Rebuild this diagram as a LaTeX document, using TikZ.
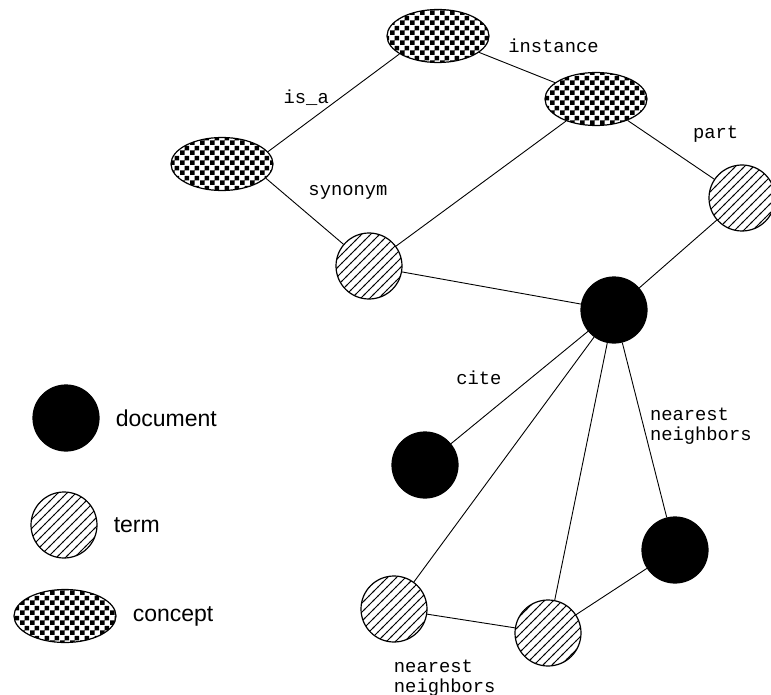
\documentclass[tikz,border=0pt]{standalone}
\usepackage{fontspec}
\setmainfont{Liberation Sans}
\setmonofont{Liberation Mono}
\usetikzlibrary{shapes.geometric,patterns,positioning}

% fill patterns for the two kinds of hatched nodes
\pgfdeclarepatternformonly{checks}{\pgfpointorigin}{\pgfpoint{10pt}{10pt}}{\pgfpoint{10pt}{10pt}}{%
  \pgfpathrectangle{\pgfpointorigin}{\pgfpoint{5pt}{5pt}}%
  \pgfpathrectangle{\pgfpoint{5pt}{5pt}}{\pgfpoint{5pt}{5pt}}%
  \pgfusepath{fill}}
\pgfdeclarepatternformonly{hatch}{\pgfpoint{-1pt}{-1pt}}{\pgfpoint{10pt}{10pt}}{\pgfpoint{9pt}{9pt}}{%
  \pgfsetlinewidth{0.8pt}%
  \pgfpathmoveto{\pgfpoint{-0.5pt}{-0.5pt}}\pgfpathlineto{\pgfpoint{9.5pt}{9.5pt}}\pgfusepath{stroke}%
  \pgfpathcircle{\pgfpoint{4.5pt}{4.5pt}}{0.9pt}\pgfusepath{fill}}

\begin{document}
\begin{tikzpicture}[x=1pt,y=1pt,
   doc/.style={circle,draw,fill=black,line width=1.2pt,minimum size=66pt,inner sep=0pt},
   term/.style={circle,draw,pattern=hatch,line width=1.2pt,minimum size=66pt,inner sep=0pt},
   concept/.style={ellipse,draw,pattern=checks,line width=1.2pt,minimum width=102pt,minimum height=53pt,inner sep=0pt},
   rel/.style={font=\ttfamily\fontsize{18.8}{20}\selectfont,inner sep=3pt,align=left},
   key/.style={font=\fontsize{23}{26}\selectfont,inner sep=3pt},
   every edge/.style={draw,line width=.9pt}]
   \useasboundingbox (0,0) rectangle (771,-695);
   \node[concept] (C1) at (438,-36) {};
   \node[concept] (C2) at (596,-99) {};
   \node[concept] (C3) at (222,-164) {};
   \node[term] (T1) at (369,-266) {};
   \node[term] (T2) at (742,-198) {};
   \node[term] (T3) at (394,-609) {};
   \node[term] (T4) at (548,-633) {};
   \node[doc] (D1) at (614,-310) {};
   \node[doc] (D2) at (425,-465) {};
   \node[doc] (D3) at (675,-550) {};
   % legend
   \node[doc] (docKey) at (66,-418) {};
   \node[term] (termKey) at (64,-525) {};
   \node[concept] (conceptKey) at (65,-616) {};
   \node[key, right=13pt of docKey] (docText) {document};
   \node[key, right=13pt of termKey] (termText) {term};
   \node[key, right=13pt of conceptKey] (conceptText) {concept};
    \path
    (C3.15) edge node[rel, pos=.55, left=8pt] {is\_a} (C1.205)
    (C1) edge node[rel, pos=.38, above right=8pt and -3pt] {instance} (C2)
    (C2) edge node[rel, pos=.6, above right=10pt and 10pt] {part} (T2)
         edge (T1)
    (C3.-18) edge node[rel, pos=.35, above right=-2pt and 12pt] {synonym} (T1)
    (T1) edge (D1)
    (T2) edge (D1)
    (D1) edge node[rel, pos=.41, left=27pt] {cite} (D2)
         edge (T3)
         edge (T4)
         edge node[rel, pos=.48, right=3pt] {nearest\\neighbors} (D3)
    (T3) edge node[rel, pos=.2, below=40pt] {nearest\\neighbors} (T4)
    (T4) edge (D3);
\end{tikzpicture}
\end{document}
